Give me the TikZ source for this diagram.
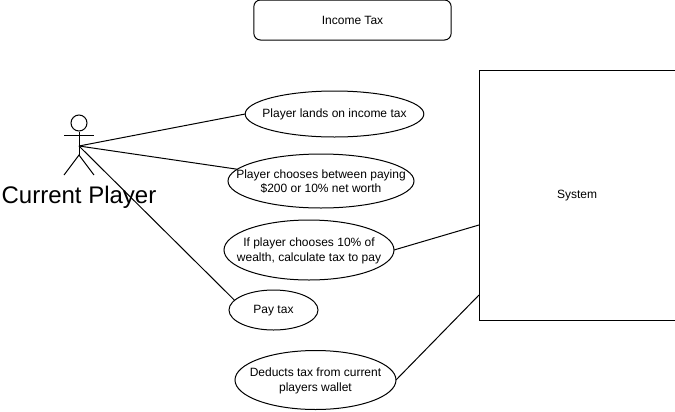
\documentclass[tikz,border=0pt]{standalone}
\usepackage{fontspec}
\setmainfont{Liberation Sans}
\usepackage{xcolor}
\usetikzlibrary{shapes.geometric}

\begin{document}
\begin{tikzpicture}[
  x=0.75pt,y=-0.75pt,
  line width=0.75pt,
  every node/.style={font=\fontsize{9}{11}\selectfont},
  every label/.style={font=\fontsize{9}{11}\selectfont,align=center,inner sep=0pt,yshift=-0.5pt},
  usecase/.style={draw,ellipse,inner sep=0pt,outer sep=0pt},
  box/.style={draw,inner sep=0pt,outer sep=0pt,align=center},
]
  \useasboundingbox (0,0) rectangle (675,411);

  \node[box,rounded corners=5pt,minimum width=148pt,minimum height=30pt] (title) at (352.5,20) {Income Tax};
  \node[box,minimum width=147pt,minimum height=187pt] (sys) at (577,195.5) {System};

  \node[usecase,minimum width=134pt,minimum height=34.5pt,label=center:{Player lands on income tax}] (land) at (334.5,114) {};
  \node[usecase,minimum width=139.5pt,minimum height=40.5pt,label=center:{Player chooses between paying\\\$200 or 10\% net worth}] (choose) at (321,181) {};
  \node[usecase,minimum width=127.5pt,minimum height=45pt,label=center:{If player chooses 10\% of\\wealth, calculate tax to pay}] (calc) at (309,250) {};
  \node[usecase,minimum width=66.75pt,minimum height=30pt,label=center:{Pay tax}] (pay) at (273.5,310) {};
  \node[usecase,minimum width=120.75pt,minimum height=44.25pt,label=center:{Deducts tax from current\\players wallet}] (deduct) at (315.5,380) {};

  % actor
  \node[draw,circle,inner sep=0pt,minimum size=12pt] (head) at (79,123) {};
  \coordinate (hub) at (79,146);
  \coordinate (hip) at (79,155);
  \coordinate (handl) at (64,135);
  \coordinate (handr) at (94,135);
  \coordinate (footl) at (64,175);
  \coordinate (footr) at (94,175);
  \draw (head) -- (hip);
  \draw (handl) -- (handr);
  \draw (footl) -- (hip) -- (footr);
  \node[font=\fontsize{18}{18}\selectfont,inner sep=0pt] (actor) at (79,197) {Current Player};

  \coordinate (sysa) at (479,225);
  \coordinate (sysb) at (479,295);
  \draw (hub) -- (land.west);
  \draw (hub) -- (choose.172);
  \draw (hub) -- (pay.166);
  \draw (calc.east) -- (sysa);
  \draw (deduct.east) -- (sysb);
\end{tikzpicture}
\end{document}
